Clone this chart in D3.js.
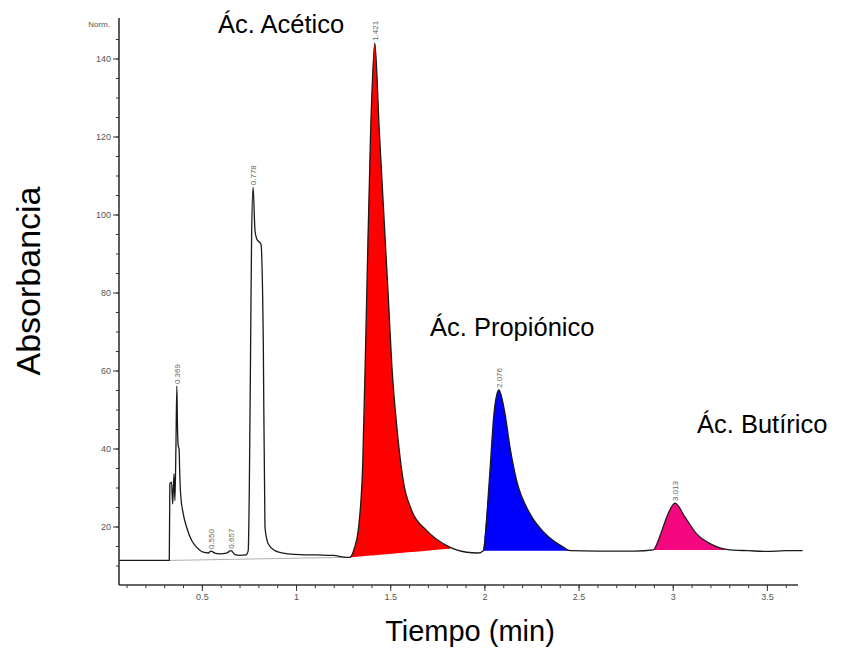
<!DOCTYPE html>
<html>
<head>
<meta charset="utf-8">
<script src="https://cdn.jsdelivr.net/npm/d3@7/dist/d3.min.js"></script>
<style>
  html, body { margin: 0; padding: 0; background: #fff; }
  svg { display: block; }
  text { font-family: "Liberation Sans", Arial, sans-serif; }
</style>
</head>
<body>
<svg id="chart" width="844" height="661"></svg>
<script>
// ---- Data ----
const traceTime = [0.06, 0.327, 0.330, 0.339, 0.345, 0.352, 0.357, 0.362, 0.367, 0.371, 0.375, 0.379, 0.382, 0.387,
  0.401, 0.419, 0.446, 0.472, 0.507, 0.534, 0.548, 0.569, 0.596, 0.631, 0.655, 0.676, 0.702, 0.734, 0.746,
  0.752, 0.759, 0.764, 0.772, 0.782, 0.791, 0.814, 0.826, 0.835, 0.852, 0.888, 0.932, 1.02, 1.109, 1.197,
  1.268, 1.286, 1.310, 1.330, 1.354, 1.375, 1.396, 1.418, 1.442, 1.490, 1.508, 1.537, 1.569, 1.614, 1.693,
  1.80, 1.906, 1.966, 1.994, 2.026, 2.051, 2.077, 2.109, 2.136, 2.171, 2.242, 2.322, 2.419, 2.455, 2.6,
  2.80, 2.897, 2.936, 2.968, 3.012, 3.065, 3.127, 3.198, 3.304, 3.4, 3.5, 3.6, 3.69];
const traceAbs = [11.3, 11.3, 31.0, 31.4, 25.8, 33.5, 26.6, 39.5, 56.0, 44.5, 40.5, 40.0, 34.4, 28.4,
  23.3, 19.8, 16.4, 14.7, 13.4, 13.2, 13.7, 13.2, 13.0, 13.2, 13.8, 12.8, 12.6, 12.7, 13.8,
  30.0, 67.7, 94.2, 107.0, 95.9, 93.8, 92.3, 67.7, 19.8, 15.6, 13.8, 13.2, 12.8, 12.7, 12.6,
  12.1, 12.1, 14.5, 19.0, 36.0, 78.7, 121.5, 144.0, 121.5, 78.7, 61.8, 44.6, 31.8, 24.1, 19.0,
  15.1, 13.4, 13.2, 13.8, 31.8, 49.0, 55.0, 49.0, 40.3, 31.8, 23.3, 18.2, 14.7, 13.8, 13.7,
  13.7, 14.0, 18.1, 22.4, 26.0, 22.4, 18.1, 15.6, 14.0, 13.8, 13.6, 13.8, 13.8];

// integrated peaks: start/end time and baseline level at start/end
const peakNames  = ["Ác. Acético", "Ác. Propiónico", "Ác. Butírico"];
const peakStart  = [1.286, 1.994, 2.897];
const peakEnd    = [1.817, 2.455, 3.304];
const baseStart  = [12.1, 13.8, 14.0];
const baseEnd    = [14.3, 13.8, 14.0];
const peakColors = ["#ff0000", "#0000ff", "#f5087f"];

// unintegrated baseline drawn under the early peaks
const baselineTime = [0.327, 1.286];
const baselineAbs  = [11.3, 12.1];

// retention time labels
const rtLabels = ["0.369", "0.550", "0.657", "0.778", "1.421", "2.076", "3.013"];
const rtTimes  = [0.367, 0.548, 0.655, 0.772, 1.418, 2.077, 3.012];

const xTicks = [0.5, 1, 1.5, 2, 2.5, 3, 3.5];
const xTickLabels = ["0.5", "1", "1.5", "2", "2.5", "3", "3.5"];
const yTicks = [20, 40, 60, 80, 100, 120, 140];

// ---- Layout ----
const svg = d3.select("#chart");
const x = d3.scaleLinear().domain([0.06, 3.665]).range([119, 798]);
const y = d3.scaleLinear().domain([5, 150]).range([585, 19.5]);
const axisColor = "#333";
const tickTextColor = "#555";
const curve = d3.curveMonotoneX;

const pts = traceTime.map((t, i) => ({ t, v: traceAbs[i] }));
const bis = d3.bisector(d => d.t).left;
function traceAt(t) {
  const i = bis(pts, t);
  if (i <= 0) return pts[0].v;
  if (i >= pts.length) return pts[pts.length - 1].v;
  const a = pts[i - 1], b = pts[i];
  return a.v + (b.v - a.v) * (t - a.t) / (b.t - a.t);
}

// ---- Filled peaks ----
peakStart.forEach((s, k) => {
  const e = peakEnd[k];
  const base = d3.scaleLinear().domain([s, e]).range([baseStart[k], baseEnd[k]]);
  const seg = [{ t: s, v: traceAt(s) }]
    .concat(pts.filter(p => p.t > s && p.t < e))
    .concat([{ t: e, v: traceAt(e) }]);
  const area = d3.area().curve(curve)
    .x(d => x(d.t))
    .y0(d => y(base(d.t)))
    .y1(d => y(Math.max(d.v, base(d.t))));
  svg.append("path").datum(seg).attr("d", area)
    .attr("fill", peakColors[k]).attr("stroke", "none");
});

// baseline segment
svg.append("line")
  .attr("x1", x(baselineTime[0])).attr("y1", y(baselineAbs[0]))
  .attr("x2", x(baselineTime[1])).attr("y2", y(baselineAbs[1]))
  .attr("stroke", "#b0b0b0").attr("stroke-width", 1);

// trace
svg.append("path").datum(pts)
  .attr("d", d3.line().curve(curve).x(d => x(d.t)).y(d => y(d.v)))
  .attr("fill", "none").attr("stroke", "#1a1a1a").attr("stroke-width", 1.3)
  .attr("stroke-linejoin", "round");

// ---- Axes ----
const xAxisG = svg.append("g").attr("transform", `translate(0,${y(5)})`);
xAxisG.call(d3.axisBottom(x).tickValues(d3.range(1, 37).map(i => i / 10)).tickSize(3).tickFormat(""));
xAxisG.call(g => g.selectAll(".domain").remove());
const xMajor = svg.append("g").attr("transform", `translate(0,${y(5)})`)
  .call(d3.axisBottom(x).tickValues(xTicks).tickSize(6).tickPadding(3)
    .tickFormat((d, i) => xTickLabels[i]));
[xAxisG, xMajor].forEach(g => {
  g.selectAll("line").attr("stroke", axisColor);
  g.selectAll("text").attr("fill", tickTextColor).attr("font-size", 9)
    .attr("font-family", "Liberation Sans, Arial, sans-serif");
});
xMajor.select(".domain").attr("stroke", axisColor).attr("stroke-width", 1.6)
  .attr("d", `M${x.range()[0]},0H${x.range()[1]}`);

const yMinor = svg.append("g").attr("transform", `translate(${x(0.06)},0)`)
  .call(d3.axisLeft(y).tickValues(d3.range(10, 150, 5)).tickSize(3).tickFormat(""));
yMinor.select(".domain").remove();
const yMajor = svg.append("g").attr("transform", `translate(${x(0.06)},0)`)
  .call(d3.axisLeft(y).tickValues(yTicks).tickSize(6).tickPadding(2));
[yMinor, yMajor].forEach(g => {
  g.selectAll("line").attr("stroke", axisColor);
  g.selectAll("text").attr("fill", tickTextColor).attr("font-size", 9)
    .attr("font-family", "Liberation Sans, Arial, sans-serif");
});
yMajor.select(".domain").attr("stroke", axisColor).attr("stroke-width", 1.6)
  .attr("d", `M0,${y.range()[0]}V${18}`);

svg.append("text").attr("x", 110).attr("y", 27).attr("text-anchor", "end")
  .attr("font-size", 8).attr("fill", tickTextColor).text("Norm.");

// ---- Retention time labels ----
rtLabels.forEach((lab, i) => {
  const t = rtTimes[i];
  const px = x(t), py = y(traceAt(t)) - 2;
  svg.append("text")
    .attr("transform", `translate(${px + 3},${py}) rotate(-90)`)
    .attr("font-size", 8).attr("fill", "#666").text(lab);
});

// ---- Compound annotations ----
const annotPos = [[218, 33], [430, 336], [697, 433]];
peakNames.forEach((n, i) => {
  svg.append("text").attr("x", annotPos[i][0]).attr("y", annotPos[i][1])
    .attr("font-size", 25.5).attr("fill", "#000").text(n);
});

// ---- Axis titles ----
svg.append("text").attr("x", 470).attr("y", 641).attr("text-anchor", "middle")
  .attr("font-size", 29).attr("fill", "#000").text("Tiempo (min)");
svg.append("text").attr("transform", "translate(40,281) rotate(-90)")
  .attr("text-anchor", "middle").attr("font-size", 34).attr("fill", "#000").text("Absorbancia");
</script>
</body>
</html>
